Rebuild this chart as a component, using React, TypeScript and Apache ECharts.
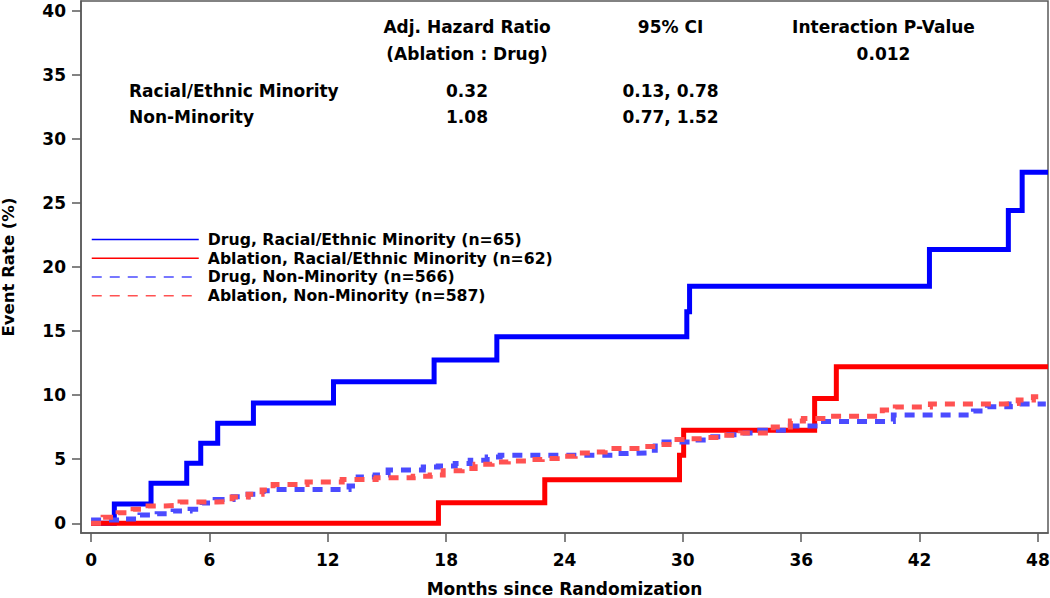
import React, { useEffect, useRef } from "react";
import * as echarts from "echarts";

const FONT = "'DejaVu Sans', 'Liberation Sans', sans-serif";

const xTicks = [0, 6, 12, 18, 24, 30, 36, 42, 48];
const yTicks = [0, 5, 10, 15, 20, 25, 30, 35, 40];

const seriesNames = [
  "Drug, Racial/Ethnic Minority (n=65)",
  "Ablation, Racial/Ethnic Minority (n=62)",
  "Drug, Non-Minority (n=566)",
  "Ablation, Non-Minority (n=587)",
];

// [month, event rate %] step points (value holds from that month onward)
const drugMinority: [number, number][] = [
  [0, 0], [1.18, 1.51], [3.04, 3.12], [4.85, 4.68], [5.56, 6.24], [6.42, 7.8],
  [8.23, 9.39], [12.29, 11.05], [17.39, 12.74], [20.57, 14.56], [30.2, 16.5],
  [30.34, 18.5], [42.5, 21.36], [46.5, 24.4], [47.2, 27.4], [48.51, 27.4],
];

const ablationMinority: [number, number][] = [
  [0, 0], [17.61, 1.6], [23.0, 3.4], [29.83, 5.3], [30.04, 7.26],
  [36.68, 9.73], [37.78, 12.22], [48.51, 12.22],
];

const drugNonMinority: [number, number][] = [
  [0, 0.25], [1.62, 0.33], [2.48, 0.65], [3.35, 0.75], [4.16, 0.96], [5.02, 1.1],
  [5.63, 1.58], [6.29, 1.85], [7.2, 2.07], [7.96, 2.26], [8.72, 2.54], [9.33, 2.63],
  [13.08, 2.91], [13.54, 3.62], [14.4, 3.77], [15.06, 4.16], [16.84, 4.39],
  [17.6, 4.47], [18.46, 4.66], [19.22, 4.92], [20.08, 5.17], [20.74, 5.3],
  [26.47, 5.44], [27.23, 5.49], [28.19, 5.7], [28.6, 6.35], [30.48, 6.5],
  [31.03, 6.76], [32.0, 6.9], [32.81, 7.05], [33.9, 7.26], [35.45, 7.6],
  [36.7, 7.95], [40.67, 8.45], [44.73, 8.77], [45.44, 9.1], [46.6, 9.31],
  [48.4, 9.31],
];

const ablationNonMinority: [number, number][] = [
  [0, 0], [0.61, 0.47], [1.37, 0.83], [2.13, 1.1], [2.89, 1.35], [3.75, 1.4],
  [4.51, 1.66], [6.39, 1.7], [7.15, 2.05], [7.96, 2.26], [8.67, 2.6], [9.23, 3.02],
  [10.95, 3.23], [12.73, 3.41], [14.45, 3.56], [16.33, 3.67], [17.19, 3.77],
  [17.85, 4.1], [18.81, 4.28], [19.47, 4.6], [20.33, 4.78], [21.15, 4.86],
  [22.11, 4.97], [22.87, 5.05], [23.63, 5.23], [24.54, 5.49], [25.3, 5.57],
  [26.06, 5.83], [27.94, 6.0], [28.75, 6.14], [29.46, 6.53], [30.27, 6.6],
  [31.24, 6.69], [32.0, 6.86], [32.91, 7.05], [34.58, 7.52], [35.45, 7.99],
  [36.11, 8.18], [37.47, 8.36], [40.11, 8.83], [40.77, 9.08], [42.55, 9.31],
  [46.25, 9.36], [47.0, 9.62], [47.77, 9.88], [48.4, 9.88],
];

const tableHeader1 = ["Adj. Hazard Ratio", "95% CI", "Interaction P-Value"];
const tableHeader2 = ["(Ablation : Drug)", "", "0.012"];
const groupLabels = ["Racial/Ethnic Minority", "Non-Minority"];
const hazardRatios = ["0.32", "1.08"];
const confIntervals = ["0.13, 0.78", "0.77, 1.52"];

const AXIS_COLOR = "#5a5a5a";

export default function App() {
  const ref = useRef<HTMLDivElement>(null);

  useEffect(() => {
    if (!ref.current) return;
    const chart = echarts.init(ref.current, undefined, { renderer: "svg" });

    const colX = [467, 670.5, 883.5];
    const rowY = [27.4, 54, 90.6, 117];
    const textStyle = (text: string, align: string) => ({
      text,
      fill: "#000",
      fontFamily: FONT,
      fontWeight: "bold",
      fontSize: 17,
      align,
      verticalAlign: "middle",
    });
    const graphics: any[] = [];
    tableHeader1.forEach((t, i) =>
      graphics.push({ type: "text", x: colX[i], y: rowY[0], style: textStyle(t, "center"), silent: true })
    );
    tableHeader2.forEach((t, i) => {
      if (t) graphics.push({ type: "text", x: colX[i], y: rowY[1], style: textStyle(t, "center"), silent: true });
    });
    groupLabels.forEach((t, i) => {
      graphics.push({ type: "text", x: 129, y: rowY[2 + i], style: textStyle(t, "left"), silent: true });
      graphics.push({ type: "text", x: colX[0], y: rowY[2 + i], style: textStyle(hazardRatios[i], "center"), silent: true });
      graphics.push({ type: "text", x: colX[1], y: rowY[2 + i], style: textStyle(confIntervals[i], "center"), silent: true });
    });

    const axisFont = { fontFamily: FONT, fontWeight: "bold" as const, color: "#000" };

    const mk = (name: string, data: [number, number][], color: string, dashed: boolean, z: number) => ({
      name,
      type: "line",
      step: "end",
      data,
      symbol: "none",
      showSymbol: false,
      silent: true,
      z,
      lineStyle: { color, width: 5, type: dashed ? [10, 8] : "solid", cap: "butt", join: "miter" },
      itemStyle: { color },
      emphasis: { disabled: true },
    });

    chart.setOption({
      animation: false,
      backgroundColor: "#fff",
      grid: {
        left: 81, right: 2, top: 1, bottom: 65,
        outerBoundsMode: "none",
        containLabel: false,
        show: true, borderColor: AXIS_COLOR, borderWidth: 1.5, backgroundColor: "transparent",
      },
      legend: {
        data: seriesNames,
        orient: "vertical",
        left: 91,
        top: 230.2,
        padding: 0,
        itemWidth: 107,
        itemHeight: 18.7,
        itemGap: 0,
        selectedMode: false,
        lineStyle: { width: 1.5 },
        itemStyle: { opacity: 0, color: "transparent", borderWidth: 0 },
        textStyle: { ...axisFont, fontSize: 15.7, lineHeight: 18.7, padding: [0, 0, 0, 4] },
      },
      xAxis: {
        type: "value",
        min: -0.51,
        max: 48.51,
        name: "Months since Randomization",
        nameLocation: "middle",
        nameGap: 47,
        nameTextStyle: { ...axisFont, fontSize: 17 },
        axisLine: { show: true, onZero: false, lineStyle: { color: AXIS_COLOR, width: 1.5 } },
        axisTick: { show: true, customValues: xTicks, length: 9, lineStyle: { color: AXIS_COLOR, width: 1.5 } },
        axisLabel: { customValues: xTicks, margin: 18, fontSize: 17, ...axisFont },
        splitLine: { show: false },
      },
      yAxis: {
        type: "value",
        min: -0.76,
        max: 40.76,
        name: "Event Rate (%)",
        nameLocation: "middle",
        nameGap: 64,
        nameTextStyle: { ...axisFont, fontSize: 16.5 },
        axisLine: { show: true, onZero: false, lineStyle: { color: AXIS_COLOR, width: 1.5 } },
        axisTick: { show: true, customValues: yTicks, length: 9, lineStyle: { color: AXIS_COLOR, width: 1.5 } },
        axisLabel: { customValues: yTicks, margin: 15, fontSize: 17, ...axisFont },
        splitLine: { show: false },
      },
      series: [
        mk(seriesNames[0], drugMinority, "#0000ff", false, 2),
        mk(seriesNames[1], ablationMinority, "#ff0000", false, 2),
        mk(seriesNames[2], drugNonMinority, "#4b4bff", true, 3),
        mk(seriesNames[3], ablationNonMinority, "#ff5252", true, 4),
      ],
      graphic: graphics,
    });

    return () => chart.dispose();
  }, []);

  return (
    <div
      ref={ref}
      style={{ position: "absolute", left: 0, top: 0, width: 1050, height: 598, background: "#fff" }}
    />
  );
}
